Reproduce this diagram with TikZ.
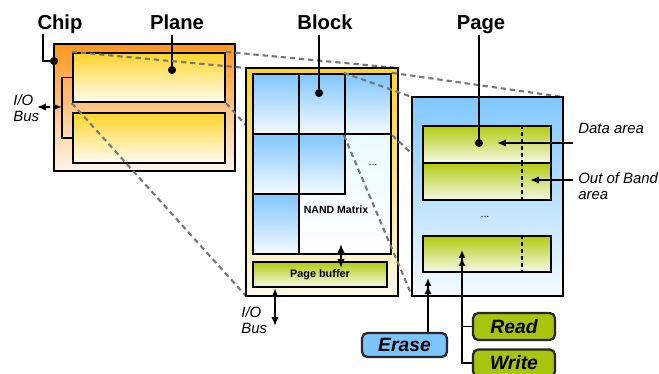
\documentclass[tikz,border=0pt]{standalone}
\usepackage{fontspec}
\setmainfont{Liberation Sans}
\usepackage{xcolor}
\usetikzlibrary{fit,arrows.meta}
\tikzset{>={Latex[length=5pt,width=4.2pt]}}

\definecolor{chiporange}{HTML}{FF961E}
\definecolor{chiplight}{HTML}{FFF4EA}
\definecolor{planegold}{HTML}{FFD42A}
\definecolor{planelight}{HTML}{FFFCF2}
\definecolor{blocklight}{HTML}{FFF9E8}
\definecolor{cellblue}{HTML}{80C6FF}
\definecolor{celllight}{HTML}{F4FAFF}
\definecolor{mtxcyan}{HTML}{DDF8FF}
\definecolor{pagegreen}{HTML}{B2CB10}
\definecolor{greenlight}{HTML}{F6F9E6}
\definecolor{pageblue}{HTML}{80C8FF}
\definecolor{pagelight}{HTML}{F4FAFF}
\definecolor{btnblue}{HTML}{7CC4FF}
\definecolor{btngreen}{HTML}{A8C40C}
\definecolor{zoomgray}{HTML}{777777}

\begin{document}
\begin{tikzpicture}[x=0.02cm,y=-0.02cm,
    box/.style={draw=black,line width=1.3pt,inner sep=0pt},
    chipbox/.style={box,top color=chiporange,bottom color=chiplight},
    planebox/.style={box,top color=planegold,bottom color=planelight},
    blockbox/.style={box,line width=1.6pt,top color=planegold,bottom color=blocklight},
    cellbox/.style={box,top color=cellblue,bottom color=celllight},
    mtxbox/.style={box,top color=mtxcyan,bottom color=white},
    greenbox/.style={box,top color=pagegreen,bottom color=greenlight},
    pagebox/.style={box,top color=pageblue,bottom color=pagelight},
    btn/.style={box,rounded corners=3pt,draw=black!85,font=\bfseries\itshape\fontsize{11}{13}\selectfont},
    title/.style={font=\bfseries\fontsize{11.5}{13}\selectfont,anchor=base,inner sep=0pt},
    note/.style={font=\itshape\fontsize{8.5}{9.5}\selectfont,inner sep=0pt,align=left},
    small/.style={font=\bfseries\fontsize{6}{7}\selectfont,inner sep=0pt},
    zoomline/.style={draw=zoomgray,line width=1.2pt,dash pattern=on 3pt off 2.2pt},
    oob/.style={line width=1.2pt,dash pattern=on 2.3pt off 1.7pt},
    wire/.style={line width=1.1pt},
    dbl/.style={wire,-{Latex[length=4.5pt,width=4pt]Latex[length=4.5pt,width=4pt]}},
    dot/.style={circle,fill=black,inner sep=0pt,minimum size=4.6pt},
  ]
\useasboundingbox (0,0) rectangle (659,373);

\coordinate (blk nw) at (246,68);
\coordinate (blk se) at (398,296);
\coordinate (pg nw) at (412,97);
\coordinate (pg se) at (563,296);

% chip
\node[chipbox,fit={(54,44) (235,171)}] (chip) {};
\node[planebox,fit={(73,53) (225,102)}] (plane1) {};
\node[planebox,fit={(73,113) (225,163)}] (plane2) {};
\coordinate (iojoin) at (62,107);
\coordinate (ioend) at (37,107);
\draw[wire] (plane1.west) -| (iojoin) |- (plane2.west);
\draw[wire,<->,densely dashed] (ioend) -- (iojoin);
\node[note,anchor=north west] (iolbl) at (13,94) {I/O\\Bus};

\node[title] (chiplbl) at (60,29) {Chip};
\node[dot] (chipdot) at (54,61) {};
\draw[wire] (chiplbl.south -| 43,0) |- (chipdot);
\node[title] (planelbl) at (177,29) {Plane};
\node[dot] (planedot) at (172,70) {};
\draw[wire] (planedot |- 0,35) -- (planedot);

\draw[zoomline] (plane1.north west) -- (blk nw);
\draw[zoomline] (plane1.north east) -- (blk nw -| blk se);
\draw[zoomline] (plane1.south west) -- (blk nw |- blk se);
\draw[zoomline] (plane1.south east) -- (blk se);

% block
\node[blockbox,fit=(blk nw) (blk se)] (block) {};
\node[mtxbox,fit={(253,74) (391,254)}] (matrix) {};
\foreach \c/\r in {1/1,2/1,3/1,1/2,2/2,1/3}
  \node[cellbox,fit={({207+46*\c},{14+60*\r}) ({253+46*\c},{74+60*\r})}] (c\c\r) {};
\node[small,font=\fontsize{6}{7}\selectfont] (mtxdots) at (373,165) {...};
\node[small] (mtxlbl) at (336,210) {NAND Matrix};
\node[greenbox,fit={(253,262) (387,287)}] (buffer) {};
\node[small,font=\bfseries\fontsize{6.2}{7}\selectfont] (buflbl) at (buffer.center) {Page buffer};
\coordinate (mtxin) at (341,244);
\coordinate (bufin) at (341,268);
\draw[wire,<->] (mtxin) -- (bufin);
\coordinate (busend) at (275,326);
\draw[wire,<->] (buffer.south -| busend) -- (busend);
\node[note,anchor=north west] (buslbl) at (241,306) {I/O\\Bus};

\node[title] (blocklbl) at (325,29) {Block};
\node[dot] (blockdot) at (319,93) {};
\draw[wire] (blockdot |- 0,35) -- (blockdot);

\draw[zoomline] (c31.north west) -- (pg nw);
\draw[zoomline] (c31.north east) -- (pg nw -| pg se);
\draw[zoomline] (c31.south west) -- (pg nw |- pg se);
\draw[zoomline] (c31.south east) -- (pg se);

% page
\node[pagebox,fit=(pg nw) (pg se)] (page) {};
\node[greenbox,fit={(423,126) (551,163)}] (row1) {};
\node[greenbox,fit={(423,163) (551,200)}] (row2) {};
\node[greenbox,fit={(423,236) (551,272)}] (row3) {};
\foreach \n in {row1,row2,row3}
  \draw[oob] (\n.north -| 522,0) -- (\n.south -| 522,0);
\node[font=\fontsize{6}{7}\selectfont,inner sep=0pt] (pgdots) at (485,217) {...};

\node[title] (pagelbl) at (481,29) {Page};
\node[dot] (pagedot) at (479,143) {};
\draw[wire] (pagedot |- 0,35) -- (pagedot);

\node[note,anchor=base west] (datalbl) at (578,133) {Data area};
\coordinate (datatip) at (497,143);
\draw[wire,->] (datatip -| 573,0) -- (datatip);
\node[note,anchor=north west] (ooblbl) at (578,172) {Out of Band\\area};
\coordinate (oobtip) at (530,180);
\draw[wire,->] (oobtip -| 573,0) -- (oobtip);

% commands
\node[btn,fill=btnblue,minimum width=17mm,minimum height=4.8mm] (erase) at (404.5,345) {Erase};
\node[btn,fill=btngreen,minimum width=16.4mm,minimum height=5.4mm] (read) at (514,326.5) {Read};
\node[btn,fill=btngreen,minimum width=16.4mm,minimum height=5.4mm] (write) at (514,363) {Write};
\coordinate (erasetip) at (428,278);
\draw[dbl] (erase.north -| erasetip) -- (erasetip);
\coordinate (rwtip) at (462,250);
\draw[dbl] (write.west) -| (rwtip);
\draw[wire] (read.west) -- (read.west -| rwtip);
\end{tikzpicture}
\end{document}
